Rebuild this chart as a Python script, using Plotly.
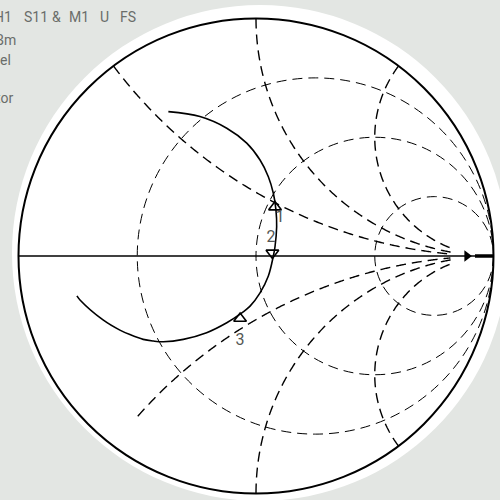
import numpy as np
import plotly.graph_objects as go

# ---- data: S11 trace read as reflection coefficient (real, imag) ----
s11_re = [-0.754, -0.741, -0.644, -0.573, -0.531, -0.475, -0.432, -0.390, -0.306,
          -0.208, -0.123, -0.067, -0.025, 0.017, 0.052, 0.073, 0.080, 0.087,
          0.084, 0.073, 0.052, 0.017, -0.039, -0.123, -0.236, -0.369]
s11_im = [-0.168, -0.185, -0.269, -0.312, -0.331, -0.351, -0.358, -0.361, -0.351,
          -0.323, -0.281, -0.245, -0.211, -0.155, -0.084, 0.000, 0.039, 0.123,
          0.194, 0.264, 0.334, 0.404, 0.475, 0.538, 0.587, 0.608]

# markers
marker_labels = ["1", "2", "3"]
marker_re = [0.080, 0.069, -0.067]
marker_im = [0.206, 0.013, -0.263]
marker_symbols = ["triangle-up-open", "triangle-down-open", "triangle-up-open"]
label_re = [0.101, 0.063, -0.067]
label_im = [0.162, 0.076, -0.358]

# reference marker on the right end of the real axis
ref_re = [0.888]
ref_im = [0.0]
ref_seg_re = [0.922, 0.998]
ref_seg_im = [0.0, 0.0]

# grid
real_grid = [1 / 3, 1, 3]
imag_grid = [-2, -1, -0.5, 0.5, 1, 2]
imag_grid_r_start = [0, 0, 0.11, 0, 0, 0]
imag_grid_r_end = 10

# header text (partly cut by the window edge)
header_words = ["CH1", "S11", "&", "M1", "U", "FS"]
header_x = [14, 35.5, 56, 79, 104, 127.5]
header_anchor = ["right", "center", "center", "center", "center", "center"]
side_lines = ["0 dBm", "Ref Level", "Scale Factor"]
side_right = [18, 13, 15]
side_y = [40, 60, 98]


def to_z(re, im):
    g = np.asarray(re) + 1j * np.asarray(im)
    z = (1 + g) / (1 - g)
    return z.real, z.imag


GRID_DASH = "10px,6px"

fig = go.Figure()

# reactance grid arcs (drawn on the smith axes, limited in resistance)
for x, r0 in zip(imag_grid, imag_grid_r_start):
    r = np.concatenate(([r0], np.geomspace(max(r0, 0.002), imag_grid_r_end, 400)))
    fig.add_trace(go.Scattersmith(real=r, imag=np.full_like(r, x), mode="lines",
                                  line=dict(color="black", width=1.4, dash=GRID_DASH),
                                  showlegend=False, hoverinfo="skip"))

zr, zi = to_z(s11_re, s11_im)
fig.add_trace(go.Scattersmith(real=zr, imag=zi, mode="lines",
                              line=dict(color="black", width=1.6, shape="spline"),
                              showlegend=False, hoverinfo="skip"))

zr, zi = to_z(ref_seg_re, ref_seg_im)
fig.add_trace(go.Scattersmith(real=zr, imag=zi, mode="lines",
                              line=dict(color="black", width=3.5),
                              showlegend=False, hoverinfo="skip"))

zr, zi = to_z(ref_re, ref_im)
fig.add_trace(go.Scattersmith(real=zr, imag=zi, mode="markers",
                              marker=dict(symbol="triangle-right", size=10, color="black"),
                              showlegend=False, hoverinfo="skip"))

zr, zi = to_z(marker_re, marker_im)
fig.add_trace(go.Scattersmith(real=zr, imag=zi, mode="markers",
                              marker=dict(symbol=marker_symbols, size=11, color="black",
                                          line=dict(color="black", width=1.6)),
                              showlegend=False, hoverinfo="skip"))

zr, zi = to_z(label_re, label_im)
fig.add_trace(go.Scattersmith(real=zr, imag=zi, mode="text",
                              text=marker_labels, textposition="middle center",
                              textfont=dict(family="Roboto", size=16, color="#555855"),
                              showlegend=False, hoverinfo="skip"))

font = dict(family="Roboto", size=14, color="#6a6d6a")
annotations = []
for w, x, a in zip(header_words, header_x, header_anchor):
    annotations.append(dict(text=w, x=x / 500, y=1 - 17 / 500, xref="paper", yref="paper",
                            xanchor=a, yanchor="middle", showarrow=False, font=font))
for t, x, y in zip(side_lines, side_right, side_y):
    annotations.append(dict(text=t, x=x / 500, y=1 - y / 500, xref="paper", yref="paper",
                            xanchor="right", yanchor="middle", showarrow=False, font=font))

fig.update_layout(
    width=500, height=500,
    margin=dict(l=0, r=0, t=0, b=0),
    paper_bgcolor="#e3e6e3",
    plot_bgcolor="#e3e6e3",
    shapes=[dict(type="circle", xref="paper", yref="paper",
                 x0=0.024, x1=1.016, y0=-0.002, y1=0.99,
                 fillcolor="white", line=dict(width=0), layer="below")],
    annotations=annotations,
    smith=dict(
        domain=dict(x=[0.037, 0.987], y=[0.013, 0.963]),
        bgcolor="white",
        realaxis=dict(tickvals=real_grid, showticklabels=False, ticks="",
                      gridcolor="black", griddash=GRID_DASH, gridwidth=1.45,
                      showline=True, linecolor="black", linewidth=1.5),
        imaginaryaxis=dict(tickvals=imag_grid, showticklabels=False, ticks="",
                           showgrid=False,
                           showline=True, linecolor="black", linewidth=2),
    ),
)

fig.write_html("out.html", config={"displayModeBar": False},
               post_script="document.body.style.margin='0';document.body.style.overflow='hidden';")
